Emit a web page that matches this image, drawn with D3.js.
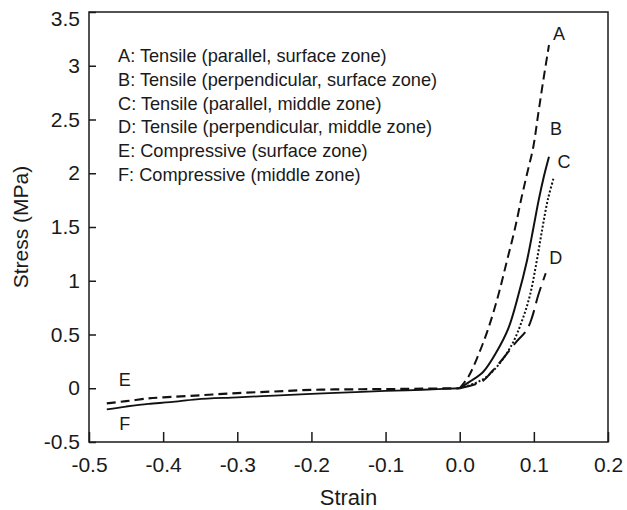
<!DOCTYPE html>
<html>
<head>
<meta charset="utf-8">
<script src="https://cdn.jsdelivr.net/npm/d3@7"></script>
<style>
  html, body { margin: 0; padding: 0; background: #fff; }
  svg { display: block; font-family: "Liberation Sans", Arial, Helvetica, sans-serif; }
</style>
</head>
<body>
<svg id="chart" width="627" height="510"></svg>
<script>
// ---- data ----
const xTicks = [-0.5, -0.4, -0.3, -0.2, -0.1, 0.0, 0.1, 0.2];
const xTickLabels = ["-0.5", "-0.4", "-0.3", "-0.2", "-0.1", "0.0", "0.1", "0.2"];
const yTicks = [-0.5, 0, 0.5, 1, 1.5, 2, 2.5, 3, 3.5];
const yTickLabels = ["-0.5", "0", "0.5", "1", "1.5", "2", "2.5", "3", "3.5"];

const legendLines = [
  "A: Tensile (parallel, surface zone)",
  "B: Tensile (perpendicular, surface zone)",
  "C: Tensile (parallel, middle zone)",
  "D: Tensile (perpendicular, middle zone)",
  "E: Compressive (surface zone)",
  "F: Compressive (middle zone)"
];

const curveA = [[0,0],[0.0117,0.107],[0.0251,0.309],[0.0386,0.557],[0.0521,0.867],[0.0634,1.177],[0.0746,1.488],[0.0836,1.78],[0.0910,2.00],[0.0993,2.247],[0.1060,2.557],[0.1128,2.867],[0.1204,3.193]];
const curveB = [[0,0],[0.0135,0.061],[0.0318,0.154],[0.0498,0.34],[0.0656,0.557],[0.0791,0.867],[0.0904,1.177],[0.0993,1.488],[0.1065,1.75],[0.1135,1.97],[0.1204,2.154]];
const curveC = [[0,0],[0.0206,0.046],[0.0363,0.107],[0.0521,0.216],[0.0701,0.402],[0.0836,0.619],[0.0948,0.867],[0.1037,1.177],[0.1115,1.488],[0.1190,1.76],[0.1272,1.968]];
const curveD = [[0,0],[0.0296,0.061],[0.0431,0.154],[0.0588,0.279],[0.0746,0.418],[0.0904,0.542],[0.0971,0.65],[0.1060,0.867],[0.1160,1.07]];
const curveE = [[-0.476,-0.14],[-0.45,-0.12],[-0.42,-0.095],[-0.40,-0.085],[-0.35,-0.065],[-0.30,-0.045],[-0.25,-0.03],[-0.20,-0.015],[-0.15,-0.01],[-0.10,-0.008],[-0.05,-0.004],[0,0]];
const curveF = [[-0.476,-0.196],[-0.45,-0.17],[-0.42,-0.145],[-0.39,-0.13],[-0.355,-0.103],[-0.30,-0.085],[-0.25,-0.068],[-0.20,-0.053],[-0.15,-0.038],[-0.10,-0.025],[-0.05,-0.014],[0,0]];

const seriesNames = ["A", "B", "C", "D", "E", "F"];
const seriesData = [curveA, curveB, curveC, curveD, curveE, curveF];

// ---- layout / style ----
const M = { left: 89, right: 608, top: 12, bottom: 442 };
const dashes = { A: "9,5", B: null, C: "2,2", D: "17,7", E: "9,5", F: null };
const widths = { A: 2, B: 2, C: 2, D: 2, E: 2.2, F: 1.8 };
// label offsets relative to curve end (A-D) or start (E, F)
const labelOffsets = {
  A: { end: true, dx: 10, dy: -5 },
  B: { end: true, dx: 7, dy: -22 },
  C: { end: true, dx: 10, dy: -9 },
  D: { end: true, dx: 10, dy: -9 },
  E: { end: false, dx: 18, dy: -17 },
  F: { end: false, dx: 18, dy: 21 }
};

const svg = d3.select("#chart");
const x = d3.scaleLinear().domain([-0.5, 0.2]).range([M.left, M.right]);
const y = d3.scaleLinear().domain([-0.5, 3.5]).range([M.bottom, M.top]);
const ink = "#1a1a1a";

// frame
svg.append("rect")
  .attr("x", M.left).attr("y", M.top)
  .attr("width", M.right - M.left).attr("height", M.bottom - M.top)
  .attr("fill", "none").attr("stroke", ink).attr("stroke-width", 1.5);

// x axis (ticks inward)
const xAxis = d3.axisBottom(x)
  .tickValues(xTicks)
  .tickFormat((d, i) => xTickLabels[i])
  .tickSizeInner(-10).tickSizeOuter(0).tickPadding(15);
const gx = svg.append("g").attr("transform", `translate(0,${M.bottom})`).call(xAxis);
gx.select(".domain").remove();
gx.selectAll(".tick line").attr("stroke", ink).attr("stroke-width", 1.5);
gx.selectAll(".tick text").attr("fill", ink).attr("font-size", 21)
  .attr("font-family", "Liberation Sans, Arial, sans-serif");

// y axis (ticks inward)
const yAxis = d3.axisLeft(y)
  .tickValues(yTicks)
  .tickFormat((d, i) => yTickLabels[i])
  .tickSizeInner(-7).tickSizeOuter(0).tickPadding(9);
const gy = svg.append("g").attr("transform", `translate(${M.left},0)`).call(yAxis);
gy.select(".domain").remove();
gy.selectAll(".tick line").attr("stroke", ink).attr("stroke-width", 1.5);
gy.selectAll(".tick text").attr("fill", ink).attr("font-size", 21)
  .attr("font-family", "Liberation Sans, Arial, sans-serif");
// top label nudged down as in the reference
gy.selectAll(".tick text").filter(d => d === 3.5).attr("y", 7);

// axis titles
svg.append("text")
  .attr("x", (M.left + M.right) / 2).attr("y", 505)
  .attr("text-anchor", "middle").attr("font-size", 22).attr("fill", ink)
  .text("Strain");
svg.append("text")
  .attr("transform", `translate(28,${(M.top + M.bottom) / 2}) rotate(-90)`)
  .attr("text-anchor", "middle").attr("font-size", 21).attr("fill", ink)
  .text("Stress (MPa)");

// legend text
svg.append("g").selectAll("text")
  .data(legendLines).join("text")
  .attr("x", 118)
  .attr("y", (d, i) => 62 + i * 23.8)
  .attr("font-size", 18.2).attr("fill", ink)
  .text(d => d);

// curves
const lineGen = d3.line().x(d => x(d[0])).y(d => y(d[1])).curve(d3.curveCatmullRom.alpha(0.5));
seriesNames.forEach((name, i) => {
  svg.append("path")
    .datum(seriesData[i])
    .attr("d", lineGen)
    .attr("fill", "none")
    .attr("stroke", "#111")
    .attr("stroke-width", widths[name])
    .attr("stroke-dasharray", dashes[name])
    .attr("stroke-linecap", "butt");
});

// curve labels
seriesNames.forEach((name, i) => {
  const o = labelOffsets[name];
  const pts = seriesData[i];
  const p = o.end ? pts[pts.length - 1] : pts[0];
  svg.append("text")
    .attr("x", x(p[0]) + o.dx).attr("y", y(p[1]) + o.dy)
    .attr("text-anchor", "middle").attr("font-size", 18).attr("fill", ink)
    .text(name);
});
</script>
</body>
</html>
